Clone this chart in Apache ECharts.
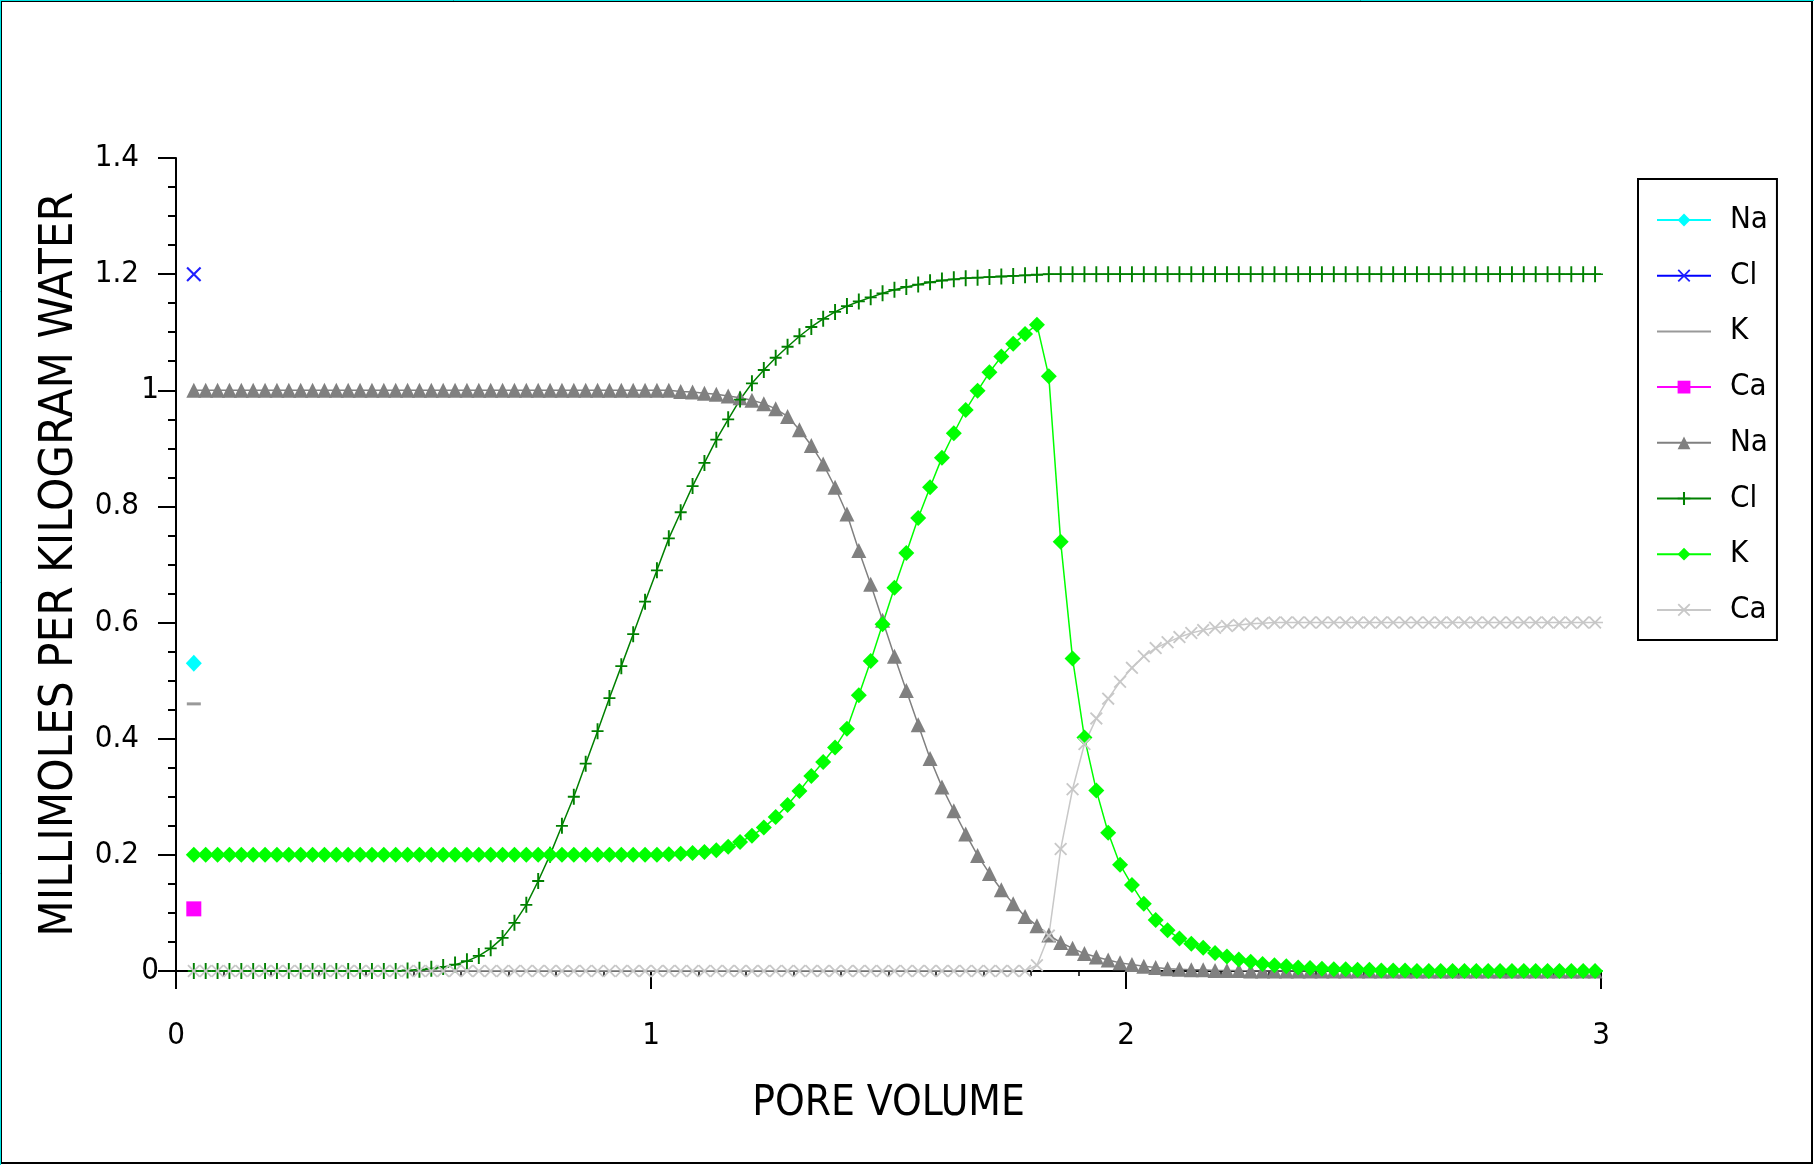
<!DOCTYPE html>
<html>
<head>
<meta charset="utf-8">
<script src="https://cdn.jsdelivr.net/npm/echarts@6/dist/echarts.min.js"></script>
<style>
html,body{margin:0;padding:0;background:#fff;}
#main{width:1814px;height:1165px;}
</style>
</head>
<body>
<div id="main"></div>
<script>
// pore volumes of the transport steps
var poreVolume = [
	0.0375, 0.0625, 0.0875, 0.1125, 0.1375, 0.1625, 0.1875, 0.2125, 0.2375, 0.2625,
	0.2875, 0.3125, 0.3375, 0.3625, 0.3875, 0.4125, 0.4375, 0.4625, 0.4875, 0.5125,
	0.5375, 0.5625, 0.5875, 0.6125, 0.6375, 0.6625, 0.6875, 0.7125, 0.7375, 0.7625,
	0.7875, 0.8125, 0.8375, 0.8625, 0.8875, 0.9125, 0.9375, 0.9625, 0.9875, 1.0125,
	1.0375, 1.0625, 1.0875, 1.1125, 1.1375, 1.1625, 1.1875, 1.2125, 1.2375, 1.2625,
	1.2875, 1.3125, 1.3375, 1.3625, 1.3875, 1.4125, 1.4375, 1.4625, 1.4875, 1.5125,
	1.5375, 1.5625, 1.5875, 1.6125, 1.6375, 1.6625, 1.6875, 1.7125, 1.7375, 1.7625,
	1.7875, 1.8125, 1.8375, 1.8625, 1.8875, 1.9125, 1.9375, 1.9625, 1.9875, 2.0125,
	2.0375, 2.0625, 2.0875, 2.1125, 2.1375, 2.1625, 2.1875, 2.2125, 2.2375, 2.2625,
	2.2875, 2.3125, 2.3375, 2.3625, 2.3875, 2.4125, 2.4375, 2.4625, 2.4875, 2.5125,
	2.5375, 2.5625, 2.5875, 2.6125, 2.6375, 2.6625, 2.6875, 2.7125, 2.7375, 2.7625,
	2.7875, 2.8125, 2.8375, 2.8625, 2.8875, 2.9125, 2.9375, 2.9625, 2.9875, 3.0125
];
var naValues = [
	1, 1, 1, 1, 1, 1, 1, 1, 1, 1,
	1, 1, 1, 1, 1, 1, 1, 1, 1, 1,
	1, 1, 1, 1, 1, 1, 1, 1, 1, 1,
	1, 1, 1, 1, 1, 1, 1, 1, 1, 1,
	1, 0.998, 0.997, 0.995, 0.993, 0.99, 0.987, 0.983, 0.977, 0.968,
	0.955, 0.932, 0.905, 0.873, 0.833, 0.787, 0.724, 0.666, 0.604, 0.542,
	0.483, 0.424, 0.366, 0.317, 0.276, 0.236, 0.199, 0.168, 0.14, 0.116,
	0.094, 0.078, 0.062, 0.049, 0.039, 0.03, 0.024, 0.019, 0.014, 0.011,
	0.008, 0.006, 0.004, 0.003, 0.002, 0.002, 0.001, 0.001, 0.001, 0,
	0, 0, 0, 0, 0, 0, 0, 0, 0, 0,
	0, 0, 0, 0, 0, 0, 0, 0, 0, 0,
	0, 0, 0, 0, 0, 0, 0, 0, 0, 0
];
var clValues = [
	0, 0, 0, 0, 0, 0, 0, 0, 0, 0,
	0, 0, 0, 0, 0, 0, 0, 0, 0.001, 0.002,
	0.004, 0.007, 0.011, 0.017, 0.026, 0.039, 0.057, 0.083, 0.114, 0.155,
	0.2, 0.25, 0.3, 0.357, 0.413, 0.47, 0.525, 0.58, 0.636, 0.69,
	0.745, 0.79, 0.835, 0.875, 0.915, 0.95, 0.984, 1.012, 1.035, 1.056,
	1.075, 1.093, 1.109, 1.123, 1.135, 1.145, 1.153, 1.16, 1.167, 1.173,
	1.178, 1.182, 1.186, 1.189, 1.191, 1.193, 1.194, 1.195, 1.196, 1.197,
	1.198, 1.199, 1.2, 1.2, 1.2, 1.2, 1.2, 1.2, 1.2, 1.2,
	1.2, 1.2, 1.2, 1.2, 1.2, 1.2, 1.2, 1.2, 1.2, 1.2,
	1.2, 1.2, 1.2, 1.2, 1.2, 1.2, 1.2, 1.2, 1.2, 1.2,
	1.2, 1.2, 1.2, 1.2, 1.2, 1.2, 1.2, 1.2, 1.2, 1.2,
	1.2, 1.2, 1.2, 1.2, 1.2, 1.2, 1.2, 1.2, 1.2, 1.2
];
var kValues = [
	0.2, 0.2, 0.2, 0.2, 0.2, 0.2, 0.2, 0.2, 0.2, 0.2,
	0.2, 0.2, 0.2, 0.2, 0.2, 0.2, 0.2, 0.2, 0.2, 0.2,
	0.2, 0.2, 0.2, 0.2, 0.2, 0.2, 0.2, 0.2, 0.2, 0.2,
	0.2, 0.2, 0.2, 0.2, 0.2, 0.2, 0.2, 0.2, 0.2, 0.2,
	0.201, 0.202, 0.203, 0.205, 0.208, 0.214, 0.222, 0.233, 0.247, 0.265,
	0.286, 0.31, 0.336, 0.36, 0.385, 0.417, 0.475, 0.534, 0.597, 0.66,
	0.72, 0.78, 0.833, 0.884, 0.926, 0.966, 0.999, 1.031, 1.058, 1.08,
	1.097, 1.113, 1.024, 0.739, 0.538, 0.402, 0.311, 0.238, 0.183, 0.148,
	0.116, 0.088, 0.07, 0.056, 0.047, 0.04, 0.031, 0.025, 0.02, 0.016,
	0.012, 0.01, 0.008, 0.006, 0.005, 0.004, 0.003, 0.003, 0.002, 0.002,
	0.001, 0.001, 0.001, 0, 0, 0, 0, 0, 0, 0,
	0, 0, 0, 0, 0, 0, 0, 0, 0, 0
];
var caValues = [
	0, 0, 0, 0, 0, 0, 0, 0, 0, 0,
	0, 0, 0, 0, 0, 0, 0, 0, 0, 0,
	0, 0, 0, 0, 0, 0, 0, 0, 0, 0,
	0, 0, 0, 0, 0, 0, 0, 0, 0, 0,
	0, 0, 0, 0, 0, 0, 0, 0, 0, 0,
	0, 0, 0, 0, 0, 0, 0, 0, 0, 0,
	0, 0, 0, 0, 0, 0, 0, 0, 0, 0,
	0, 0.01, 0.061, 0.21, 0.313, 0.391, 0.435, 0.469, 0.498, 0.522,
	0.542, 0.556, 0.566, 0.575, 0.582, 0.587, 0.591, 0.594, 0.596, 0.598,
	0.599, 0.6, 0.6, 0.6, 0.6, 0.6, 0.6, 0.6, 0.6, 0.6,
	0.6, 0.6, 0.6, 0.6, 0.6, 0.6, 0.6, 0.6, 0.6, 0.6,
	0.6, 0.6, 0.6, 0.6, 0.6, 0.6, 0.6, 0.6, 0.6, 0.6
];
// the single points of the first solution
var firstVolume = 0.0375;
var firstNa = 0.53;
var firstCl = 1.2;
var firstK = 0.46;
var firstCa = 0.107;

var FONT = '"Liberation Sans Narrow", "Arial Narrow", "DejaVu Sans Condensed", "Liberation Sans", sans-serif';
var X_SYMBOL = 'path://M0,1 L1,0 L5,4 L9,0 L10,1 L6,5 L10,9 L9,10 L5,6 L1,10 L0,9 L4,5 Z';
var PLUS_SYMBOL = 'path://M4.2,0 L5.8,0 L5.8,6.2 L10,6.2 L10,7.8 L5.8,7.8 L5.8,14 L4.2,14 L4.2,7.8 L0,7.8 L0,6.2 L4.2,6.2 Z';

function pairs(values){
	var out = [];
	for(var i = 0; i < poreVolume.length; i++){
		out.push([poreVolume[i], values[i]]);
	}
	return out;
}

var mychart = echarts.init(document.getElementById('main'));
var option = {
	animation: false,
	backgroundColor: '#fff',
	grid: {left: 176, right: 213, top: 158, bottom: 194, containLabel: false},
	legend: {
		orient: 'vertical',
		left: 1638,
		top: 179,
		padding: [25, 9, 14, 18],
		itemGap: 23.7,
		itemWidth: 54,
		itemHeight: 16,
		borderColor: '#000',
		borderWidth: 2,
		backgroundColor: '#fff',
		selectedMode: false,
		textStyle: {fontFamily: FONT, fontSize: 31, lineHeight: 32, color: '#000', padding: [0, 0, 0, 14]},
		formatter: function(name){ return name.trim(); },
		data: ['Na', 'Cl', {name: 'K', icon: 'path://M0,0 L54,0 L54,2 L0,2 Z'}, 'Ca', 'Na ', 'Cl ', 'K ', 'Ca ']
	},
	xAxis: {
		type: 'value', min: 0, max: 3, interval: 1,
		name: 'PORE VOLUME', nameLocation: 'middle', nameGap: 112,
		nameTextStyle: {fontFamily: FONT, fontSize: 42, color: '#000', verticalAlign: 'top'},
		axisLine: {onZero: false, lineStyle: {color: '#000', width: 2}},
		axisTick: {length: 18, lineStyle: {color: '#000', width: 2}},
		minorTick: {show: true, splitNumber: 10, length: 5, lineStyle: {color: '#000', width: 1.5}},
		axisLabel: {margin: 49, fontFamily: FONT, fontSize: 31, color: '#000'},
		splitLine: {show: false}
	},
	yAxis: {
		type: 'value', min: 0, max: 1.4, interval: 0.2,
		name: 'MILLIMOLES PER KILOGRAM WATER', nameLocation: 'middle', nameGap: 83, nameRotate: 90,
		nameTextStyle: {fontFamily: FONT, fontSize: 47, color: '#000'},
		axisLine: {onZero: false, lineStyle: {color: '#000', width: 2}},
		axisTick: {length: 18, lineStyle: {color: '#000', width: 2}},
		minorTick: {show: true, splitNumber: 4, length: 8, lineStyle: {color: '#000', width: 2}},
		axisLabel: {
			margin: 17, fontFamily: FONT, fontSize: 31, color: '#000',
			// whole numbers sit closer to the axis than the decimals
			formatter: function(v){
				var s = String(+v.toFixed(1));
				return s.indexOf('.') < 0 ? '{i|' + s + '}' : '{d|' + s + '}';
			},
			rich: {
				i: {fontFamily: FONT, fontSize: 31, color: '#000'},
				d: {fontFamily: FONT, fontSize: 31, color: '#000', padding: [0, 20, 0, 0]}
			}
		},
		splitLine: {show: false}
	},
	series: [
		{name: 'Na', type: 'line', data: [[firstVolume, firstNa]], symbol: 'diamond', symbolSize: [16, 17],
			itemStyle: {color: '#00ffff'}, lineStyle: {color: '#00ffff', width: 2}},
		{name: 'Cl', type: 'line', data: [[firstVolume, firstCl]], symbol: X_SYMBOL, symbolSize: 15,
			itemStyle: {color: '#2020ff'}, lineStyle: {color: '#0000ff', width: 2}},
		{name: 'K', type: 'line', data: [[firstVolume, firstK]], symbol: 'rect', symbolSize: [14, 3],
			itemStyle: {color: '#999999'}, lineStyle: {color: '#999999', width: 2}},
		{name: 'Ca', type: 'line', data: [[firstVolume, firstCa]], symbol: 'rect', symbolSize: 15,
			itemStyle: {color: '#ff00ff'}, lineStyle: {color: '#ff00ff', width: 2}},
		{name: 'Na ', type: 'line', data: pairs(naValues), symbol: 'triangle', symbolSize: [15, 15],
			itemStyle: {color: '#808080'}, lineStyle: {color: '#808080', width: 1.5}},
		{name: 'Cl ', type: 'line', data: pairs(clValues), symbol: PLUS_SYMBOL, symbolSize: [12, 16],
			itemStyle: {color: '#008000'}, lineStyle: {color: '#008000', width: 1.5}},
		{name: 'K ', type: 'line', data: pairs(kValues), symbol: 'diamond', symbolSize: 16,
			itemStyle: {color: '#00ff00'}, lineStyle: {color: '#00ff00', width: 1.5}},
		{name: 'Ca ', type: 'line', data: pairs(caValues), symbol: X_SYMBOL, symbolSize: 13,
			itemStyle: {color: '#c8c8c8'}, lineStyle: {color: '#c8c8c8', width: 1.5}}
	],
	graphic: [
		{type: 'rect', shape: {x: 1, y: 1, width: 1811, height: 1162}, style: {fill: null, stroke: '#000', lineWidth: 2}, silent: true},
		{type: 'line', shape: {x1: 0, y1: 0.5, x2: 1814, y2: 0.5}, style: {stroke: '#00e5e5', lineWidth: 1}, silent: true},
		{type: 'line', shape: {x1: 0.5, y1: 0, x2: 0.5, y2: 1165}, style: {stroke: '#00e5e5', lineWidth: 1}, silent: true}
	]
};
mychart.setOption(option);
</script>
</body>
</html>
